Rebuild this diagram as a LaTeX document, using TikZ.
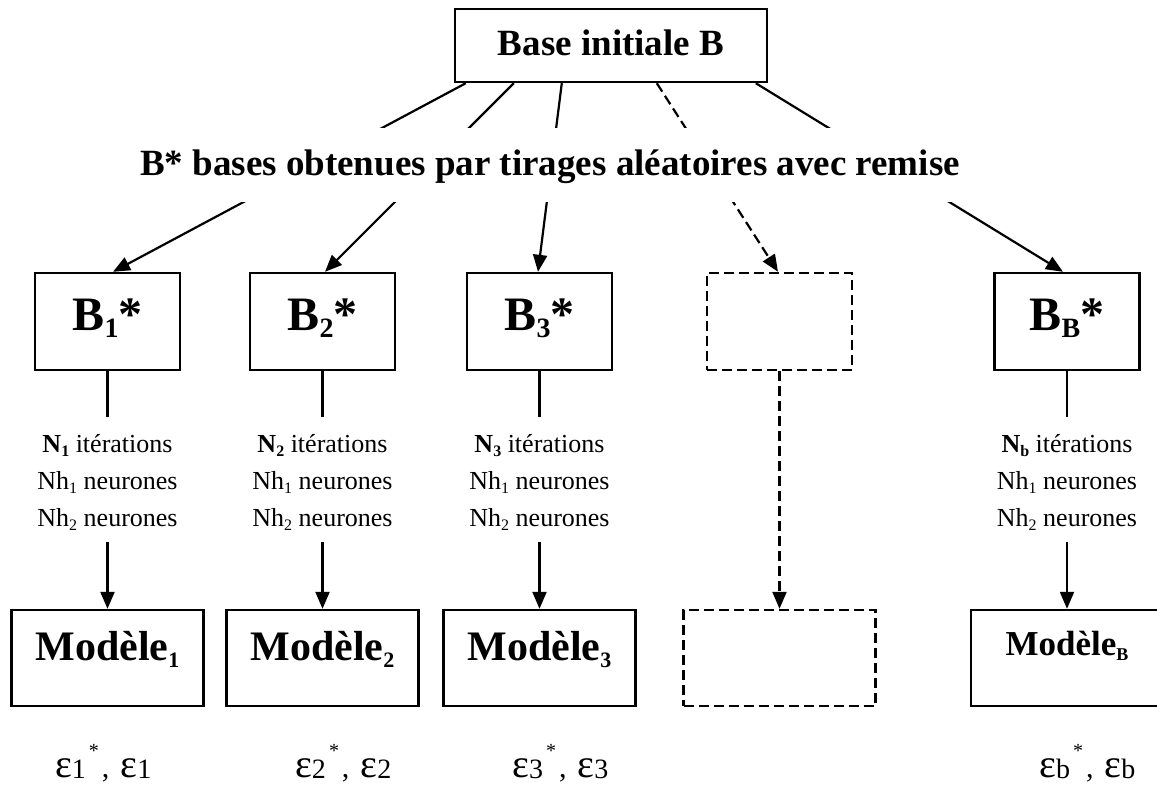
\documentclass[tikz,border=0pt]{standalone}
\usepackage{fontspec}
\setmainfont{Liberation Serif}
\usetikzlibrary{arrows.meta,calc}
\newcommand{\bsub}[1]{\raisebox{-7pt}{\fontsize{28}{28}\selectfont #1}}
\newcommand{\msub}[1]{\raisebox{-7pt}{\fontsize{22}{22}\selectfont #1}}
\newcommand{\mbsub}[1]{\raisebox{-5pt}{\fontsize{18}{18}\selectfont #1}}
\newcommand{\isub}[1]{\raisebox{-4pt}{\fontsize{16}{16}\selectfont #1}}
\newcommand{\epsg}[1]{{\fontsize{40}{40}\selectfont ε}\raisebox{-1pt}{\fontsize{28}{28}\selectfont #1}}
\newcommand{\estar}{\raisebox{20pt}{\fontsize{20}{20}\selectfont *}}
\newcommand{\epsl}[1]{\epsg{#1}\hspace{3pt}\estar\hspace{3pt},\hspace{11pt}\epsg{#1}}
\begin{document}
\begin{tikzpicture}[x=1pt,y=-1pt,
  box/.style={draw,line width=2.4pt,inner sep=0pt},
  bstar/.style={box,minimum width=145pt,minimum height=97pt,text height=30pt,text depth=13pt,font=\fontsize{48}{48}\selectfont\bfseries},
  mbox/.style={box,minimum width=192pt,minimum height=96pt,text height=20pt,text depth=16pt,font=\fontsize{42}{42}\selectfont\bfseries},
  iter/.style={inner sep=0pt,text height=35pt,text depth=89pt,font=\fontsize{26}{37}\selectfont},
  epsn/.style={inner sep=0pt,anchor=base west,font=\fontsize{30}{30}\selectfont},
  conn/.style={line width=2.2pt},
  arr/.style={conn,-{Triangle[length=17pt,width=14pt]}},
  dsh/.style={dash pattern=on 10pt off 5pt},
]
\useasboundingbox (0,0) rectangle (1157,785);
\clip (0,0) rectangle (1157,785);

\node[box,minimum width=312pt,minimum height=73pt,text height=26pt,text depth=7pt,font=\fontsize{37}{37}\selectfont\bfseries] (top) at (611,45.5) {Base initiale B};

\node[bstar] (b1) at (107.5,321.5) {B\bsub{1}*};
\node[bstar] (b2) at (322.5,321.5) {B\bsub{2}*};
\node[bstar] (b3) at (539.5,321.5) {B\bsub{3}*};
\node[bstar,dsh] (bd) at (779.5,321.5) {};
\node[bstar] (bB) at (1067,321.5) {B\bsub{B}*};

\draw[arr] ([xshift=12pt]top.south west) -- ([xshift=5.5pt]b1.north);
\draw[arr] ([xshift=60pt]top.south west) -- ([xshift=2.5pt]b2.north);
\draw[arr] ([xshift=108pt]top.south west) -- ([xshift=-1.5pt]b3.north);
\draw[arr,dsh] ([xshift=203pt]top.south west) -- ([xshift=-1.5pt]bd.north);
\draw[arr] ([xshift=302pt]top.south west) -- ([xshift=-4pt]bB.north);

\node[fill=white,inner sep=0pt,minimum width=840pt,text height=47pt,text depth=27pt,font=\fontsize{37}{37}\selectfont\bfseries] (mid) at (550,165) {B* bases obtenues par tirages aléatoires avec remise};

\node[iter,anchor=north] (i1) at ([yshift=-46pt]b1.south) {\begin{tabular}[t]{@{}c@{}}\textbf{N\isub{1}} itérations\\ Nh\isub{1} neurones\\ Nh\isub{2} neurones\end{tabular}};
\node[iter,anchor=north] (i2) at ([yshift=-46pt]b2.south) {\begin{tabular}[t]{@{}c@{}}\textbf{N\isub{2}} itérations\\ Nh\isub{1} neurones\\ Nh\isub{2} neurones\end{tabular}};
\node[iter,anchor=north] (i3) at ([yshift=-46pt]b3.south) {\begin{tabular}[t]{@{}c@{}}\textbf{N\isub{3}} itérations\\ Nh\isub{1} neurones\\ Nh\isub{2} neurones\end{tabular}};
\node[iter,anchor=north] (iB) at ([yshift=-46pt]bB.south) {\begin{tabular}[t]{@{}c@{}}\textbf{N\isub{b}} itérations\\ Nh\isub{1} neurones\\ Nh\isub{2} neurones\end{tabular}};

\node[mbox] (m1) at (107.5,658) {Modèle\msub{1}};
\node[mbox] (m2) at (322.5,658) {Modèle\msub{2}};
\node[mbox] (m3) at (539.5,658) {Modèle\msub{3}};
\node[mbox,dsh] (md) at (779.5,658) {};
\node[mbox,text height=14pt,text depth=20pt,font=\fontsize{35}{35}\selectfont\bfseries] (mB) at (1067,658) {Modèle\mbsub{B}};

\draw[conn] (b1.south) -- (i1.north);
\draw[conn] (b2.south) -- (i2.north);
\draw[conn] (b3.south) -- (i3.north);
\draw[conn] (bB.south) -- (iB.north);
\draw[arr] (i1.south) -- (m1.north);
\draw[arr] (i2.south) -- (m2.north);
\draw[arr] (i3.south) -- (m3.north);
\draw[arr] (iB.south) -- (mB.north);
\draw[arr,dsh] (bd.south) -- (md.north);

\node[epsn] (e1) at (55,777) {\epsl{1}};
\node[epsn] (e2) at (295,777) {\epsl{2}};
\node[epsn] (e3) at (512,777) {\epsl{3}};
\node[epsn] (eB) at (1039,777) {\epsl{b}};
\end{tikzpicture}
\end{document}
